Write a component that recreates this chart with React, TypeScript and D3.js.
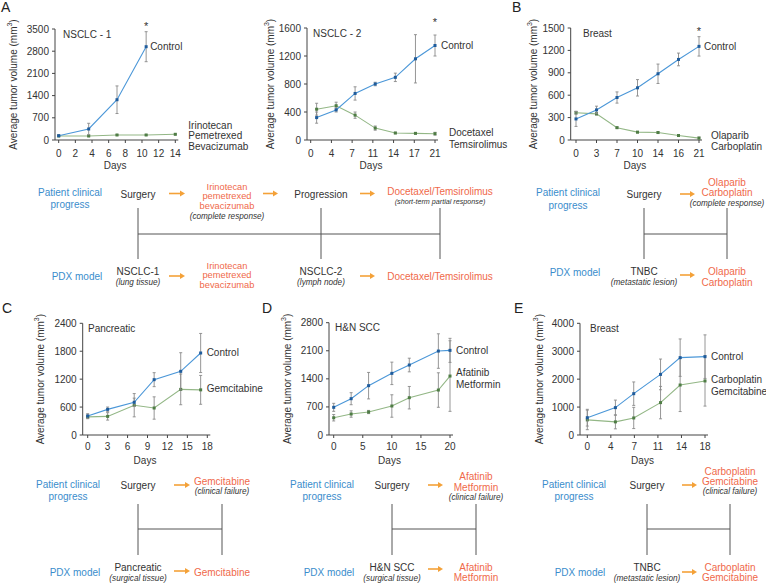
import React from 'react';
import * as d3 from 'd3';

const FONT = "'Liberation Sans', Arial, Helvetica, sans-serif";
const BLUE_LINE = '#4b97d8';
const BLUE_DOT = '#1f5c9c';
const GREEN_LINE = '#93b786';
const GREEN_DOT = '#4f7d45';
const ERR = '#8a8a8a';
const TXT = '#333333';
const BLUE_TXT = '#3a8dcc';
const RED_TXT = '#f0694a';
const ARROW = '#f4a138';
const AXIS = '#444444';
const IT = 8.2;

// ---------- Panel A (NSCLC-1) ----------
const a1CtrlDays = [0, 3.6, 7, 10.5];
const a1Ctrl = [136, 347, 1270, 2942];
const a1CtrlErr = [20, 180, 435, 473];
const a1TrtDays = [0, 3.6, 7, 10.5, 14];
const a1Trt = [126, 126, 158, 158, 180];
const a1TrtErr = [15, 15, 15, 15, 15];
const a1XTicks = [0, 2, 4, 6, 8, 10, 12, 14];
const a1XLabels = ['0', '2', '4', '6', '8', '10', '12', '14'];
const a1YTicks = [0, 700, 1400, 2100, 2800, 3500];

// ---------- Panel A (NSCLC-2) ----------
const a2Days = [1, 4.3, 7.5, 10.9, 14.3, 17.7, 21];
const a2Ctrl = [320, 430, 665, 800, 895, 1160, 1350];
const a2CtrlErr = [80, 30, 95, 25, 60, 345, 150];
const a2Trt = [440, 490, 355, 170, 100, 95, 90];
const a2TrtErr = [85, 50, 45, 30, 10, 10, 20];
const a2XTicks = [0, 3.5, 7, 10.5, 14, 17.5, 21];
const a2XLabels = ['0', '4', '7', '11', '14', '17', '21'];
const a2YTicks = [0, 400, 800, 1200, 1600];

// ---------- Panel B (Breast) ----------
const bDays = [0, 3.5, 7, 10.5, 14, 17.5, 21];
const bCtrl = [282, 403, 569, 699, 887, 1079, 1254];
const bCtrlErr = [100, 50, 75, 110, 130, 85, 130];
const bTrt = [365, 350, 165, 105, 100, 60, 25];
const bTrtErr = [20, 15, 10, 10, 10, 10, 15];
const bXTicks = [0, 3.5, 7, 10.5, 14, 17.5, 21];
const bXLabels = ['0', '3', '7', '10', '14', '16', '21'];
const bYTicks = [0, 300, 600, 900, 1200, 1500];

// ---------- Panel C (Pancreatic) ----------
const cDays = [0, 3, 7, 10, 14, 17];
const cCtrl = [408, 551, 702, 1189, 1368, 1762];
const cCtrlErr = [50, 50, 90, 150, 400, 420];
const cTrt = [390, 400, 640, 580, 980, 970];
const cTrtErr = [40, 80, 250, 240, 330, 310];
const cXTicks = [0, 3, 6, 9, 12, 15, 18];
const cXLabels = ['0', '3', '6', '9', '12', '15', '18'];
const cYTicks = [0, 600, 1200, 1800, 2400];

// ---------- Panel D (H&N SCC) ----------
const dDays = [0, 3, 6, 10, 13, 18, 20];
const dCtrl = [690, 905, 1230, 1537, 1745, 2093, 2110];
const dCtrlErr = [100, 150, 330, 280, 170, 430, 300];
const dTrt = [430, 523, 573, 723, 930, 1121, 1470];
const dTrtErr = [80, 80, 40, 280, 280, 430, 880];
const dXTicks = [0, 5, 10, 15, 20];
const dXLabels = ['0', '5', '10', '15', '20'];
const dYTicks = [0, 700, 1400, 2100, 2800];

// ---------- Panel E (Breast) ----------
const eDays = [0, 4.3, 7.1, 11.2, 14.2, 18];
const eCtrl = [620, 980, 1480, 2170, 2770, 2806];
const eCtrlErr = [300, 270, 420, 550, 670, 780];
const eTrt = [540, 470, 610, 1160, 1790, 1935];
const eTrtErr = [350, 250, 380, 580, 950, 900];
const eXTicks = [0, 3.6, 7.2, 10.8, 14.4, 18];
const eXLabels = ['0', '4', '7', '11', '14', '18'];
const eYTicks = [0, 1000, 2000, 3000, 4000];

type ChartProps = {
  axisX: number; x0: number; x1: number; yTop: number; yBottom: number;
  xDomain: [number, number]; yDomain: [number, number];
  xTicks: number[]; xLabels: string[]; yTicks: number[];
  ctrlDays: number[]; ctrl: number[]; ctrlErr: number[];
  trtDays: number[]; trt: number[]; trtErr: number[];
  title: string; titleX: number;
  trtLabels: string[]; trtDx: number; trtDy: number[];
  ctrlDx: number;
  starY?: number;
  yTitleX: number;
  tickDy: number;
};

function Series({ days, vals, errs, x, y, lineColor, dotColor }: any) {
  const pts: [number, number][] = days.map((d: number, i: number) => [d, vals[i]]);
  const line = d3.line<[number, number]>().x(d => x(d[0])).y(d => y(d[1]));
  return (
    <g>
      {pts.map((p, i) => (
        <g key={'e' + i} stroke={ERR} strokeWidth={0.9}>
          <line x1={x(p[0])} x2={x(p[0])} y1={y(p[1] + errs[i])} y2={y(Math.max(0, p[1] - errs[i]))} />
          <line x1={x(p[0]) - 1.5} x2={x(p[0]) + 1.5} y1={y(p[1] + errs[i])} y2={y(p[1] + errs[i])} />
          <line x1={x(p[0]) - 1.5} x2={x(p[0]) + 1.5} y1={y(Math.max(0, p[1] - errs[i]))} y2={y(Math.max(0, p[1] - errs[i]))} />
        </g>
      ))}
      <path d={line(pts) || ''} fill="none" stroke={lineColor} strokeWidth={1.1} />
      {pts.map((p, i) => (
        <rect key={'p' + i} x={x(p[0]) - 1.5} y={y(p[1]) - 1.5} width={3} height={3} fill={dotColor} />
      ))}
    </g>
  );
}

function Chart(p: ChartProps) {
  const x = d3.scaleLinear().domain(p.xDomain).range([p.x0, p.x1]);
  const y = d3.scaleLinear().domain(p.yDomain).range([p.yBottom, p.yTop]);
  const lastC = p.ctrl.length - 1;
  const lastT = p.trt.length - 1;
  const cx = x(p.ctrlDays[lastC]);
  const cy = y(p.ctrl[lastC]);
  const tx = x(p.trtDays[lastT]);
  const ty = y(p.trt[lastT]);
  const midY = (p.yTop + p.yBottom) / 2;
  return (
    <g fontFamily={FONT} fill={TXT}>
      <line x1={p.axisX} x2={p.axisX} y1={p.yTop} y2={p.yBottom} stroke={AXIS} strokeWidth={1} />
      <line x1={p.axisX} x2={p.x1 + 3} y1={p.yBottom} y2={p.yBottom} stroke={AXIS} strokeWidth={1} />
      {p.yTicks.map(t => (
        <g key={'y' + t}>
          <line x1={p.axisX - 3} x2={p.axisX} y1={y(t)} y2={y(t)} stroke={AXIS} />
          <text x={p.axisX - 6} y={y(t)} textAnchor="end" dominantBaseline="central" fontSize={10}>{t}</text>
        </g>
      ))}
      {p.xTicks.map((t, i) => (
        <g key={'x' + i}>
          <line x1={x(t)} x2={x(t)} y1={p.yBottom} y2={p.yBottom + 3} stroke={AXIS} />
          <text x={x(t)} y={p.yBottom + p.tickDy} textAnchor="middle" dominantBaseline="central" fontSize={10}>{p.xLabels[i]}</text>
        </g>
      ))}
      <text x={(p.axisX + p.x1) / 2} y={p.yBottom + 25} textAnchor="middle" dominantBaseline="central" fontSize={10}>Days</text>
      <text transform={`translate(${p.yTitleX},${midY}) rotate(-90)`} textAnchor="middle" dominantBaseline="central" fontSize={10}>
        Average tumor volume (mm<tspan dy={-4} fontSize={7}>3</tspan><tspan dy={4}>)</tspan>
      </text>
      <text x={p.titleX} y={p.yTop + 5} dominantBaseline="central" fontSize={10}>{p.title}</text>
      <Series days={p.trtDays} vals={p.trt} errs={p.trtErr} x={x} y={y} lineColor={GREEN_LINE} dotColor={GREEN_DOT} />
      <Series days={p.ctrlDays} vals={p.ctrl} errs={p.ctrlErr} x={x} y={y} lineColor={BLUE_LINE} dotColor={BLUE_DOT} />
      <text x={cx + p.ctrlDx} y={cy} dominantBaseline="central" fontSize={10}>Control</text>
      {p.trtLabels.map((s, i) => (
        <text key={s} x={tx + p.trtDx} y={ty + p.trtDy[i]} dominantBaseline="central" fontSize={10}>{s}</text>
      ))}
      {p.starY !== undefined && (
        <text x={cx} y={p.starY + 3} textAnchor="middle" dominantBaseline="central" fontSize={11}>*</text>
      )}
    </g>
  );
}

function T({ x, y, c = TXT, size = 10, italic = false, children }: any) {
  return (
    <text x={x} y={y} textAnchor="middle" dominantBaseline="central" fontSize={size}
      fill={c} fontStyle={italic ? 'italic' : 'normal'} fontFamily={FONT}>{children}</text>
  );
}

function Arrow({ x1, x2, y }: any) {
  return (
    <g>
      <line x1={x1} x2={x2 - 4} y1={y} y2={y} stroke={ARROW} strokeWidth={1.6} />
      <polygon points={`${x2},${y} ${x2 - 5},${y - 3} ${x2 - 5},${y + 3}`} fill={ARROW} />
    </g>
  );
}

function Bracket({ xs, yTop, yMid, yBot }: any) {
  return (
    <g stroke="#555" strokeWidth={1}>
      {xs.map((xv: number) => <line key={xv} x1={xv} x2={xv} y1={yTop} y2={yBot} />)}
      <line x1={xs[0]} x2={xs[xs.length - 1]} y1={yMid} y2={yMid} />
    </g>
  );
}

function Letter({ x, y, s }: any) {
  return <text x={x} y={y} fontSize={14} fontFamily={FONT} fill="#222" dominantBaseline="central">{s}</text>;
}

export default function App() {
  return (
    <svg width={766} height={583} style={{ position: 'absolute', left: 0, top: 0, background: '#fff' }}>
      <rect width={766} height={583} fill="#fff" />
      <Letter x={1} y={7} s="A" />
      <Letter x={512} y={7} s="B" />
      <Letter x={2} y={308} s="C" />
      <Letter x={262} y={308} s="D" />
      <Letter x={514} y={308} s="E" />

      <Chart axisX={55} x0={58.7} x1={175.3} yTop={29} yBottom={140} xDomain={[0, 14]} yDomain={[0, 3500]}
        xTicks={a1XTicks} xLabels={a1XLabels} yTicks={a1YTicks}
        ctrlDays={a1CtrlDays} ctrl={a1Ctrl} ctrlErr={a1CtrlErr}
        trtDays={a1TrtDays} trt={a1Trt} trtErr={a1TrtErr}
        title="NSCLC - 1" titleX={63} trtLabels={['Irinotecan', 'Pemetrexed', 'Bevacizumab']}
        trtDx={13} trtDy={[-9, 1.5, 12]} ctrlDx={4} starY={23} yTitleX={13} tickDy={13} />

      <Chart axisX={307} x0={310.7} x1={435} yTop={28} yBottom={140} xDomain={[0, 21]} yDomain={[0, 1600]}
        xTicks={a2XTicks} xLabels={a2XLabels} yTicks={a2YTicks}
        ctrlDays={a2Days} ctrl={a2Ctrl} ctrlErr={a2CtrlErr}
        trtDays={a2Days} trt={a2Trt} trtErr={a2TrtErr}
        title="NSCLC - 2" titleX={313} trtLabels={['Docetaxel', 'Temsirolimus']}
        trtDx={14} trtDy={[-1, 11]} ctrlDx={6} starY={19} yTitleX={270} tickDy={13} />

      <Chart axisX={570.7} x0={576} x1={699} yTop={28} yBottom={140} xDomain={[0, 21]} yDomain={[0, 1500]}
        xTicks={bXTicks} xLabels={bXLabels} yTicks={bYTicks}
        ctrlDays={bDays} ctrl={bCtrl} ctrlErr={bCtrlErr}
        trtDays={bDays} trt={bTrt} trtErr={bTrtErr}
        title="Breast" titleX={583} trtLabels={['Olaparib', 'Carboplatin']}
        trtDx={12} trtDy={[-3, 8]} ctrlDx={5} starY={28} yTitleX={533} tickDy={13} />

      <Chart axisX={82.7} x0={87.7} x1={207.3} yTop={323.3} yBottom={435} xDomain={[0, 18]} yDomain={[0, 2400]}
        xTicks={cXTicks} xLabels={cXLabels} yTicks={cYTicks}
        ctrlDays={cDays} ctrl={cCtrl} ctrlErr={cCtrlErr}
        trtDays={cDays} trt={cTrt} trtErr={cTrtErr}
        title="Pancreatic" titleX={88} trtLabels={['Gemcitabine']}
        trtDx={6} trtDy={[-1]} ctrlDx={6} yTitleX={40} tickDy={11} />

      <Chart axisX={329} x0={333.7} x1={450} yTop={322.7} yBottom={435} xDomain={[0, 20]} yDomain={[0, 2800]}
        xTicks={dXTicks} xLabels={dXLabels} yTicks={dYTicks}
        ctrlDays={dDays} ctrl={dCtrl} ctrlErr={dCtrlErr}
        trtDays={dDays} trt={dTrt} trtErr={dTrtErr}
        title="H&N SCC" titleX={335} trtLabels={['Afatinib', 'Metformin']}
        trtDx={6} trtDy={[-4, 8]} ctrlDx={6} yTitleX={287} tickDy={11} />

      <Chart axisX={580} x0={587.3} x1={705} yTop={323.3} yBottom={435} xDomain={[0, 18]} yDomain={[0, 4000]}
        xTicks={eXTicks} xLabels={eXLabels} yTicks={eYTicks}
        ctrlDays={eDays} ctrl={eCtrl} ctrlErr={eCtrlErr}
        trtDays={eDays} trt={eTrt} trtErr={eTrtErr}
        title="Breast" titleX={590} trtLabels={['Carboplatin', 'Gemcitabine']}
        trtDx={6} trtDy={[-1, 11]} ctrlDx={6} yTitleX={539} tickDy={11} />

      {/* ---- Diagram A ---- */}
      <T x={70} y={192} c={BLUE_TXT}>Patient clinical</T>
      <T x={70} y={204} c={BLUE_TXT}>progress</T>
      <T x={138} y={194}>Surgery</T>
      <Arrow x1={169} x2={185} y={193.5} />
      <T x={227} y={187} c={RED_TXT} size={9.3}>Irinotecan</T>
      <T x={227} y={196.3} c={RED_TXT} size={9.3}>pemetrexed</T>
      <T x={227} y={205.6} c={RED_TXT} size={9.3}>bevacizumab</T>
      <T x={227} y={216} size={IT} italic>(complete response)</T>
      <Arrow x1={263} x2={278} y={193.5} />
      <T x={321} y={194}>Progression</T>
      <Arrow x1={360} x2={375} y={193.5} />
      <T x={440} y={191.5} c={RED_TXT}>Docetaxel/Temsirolimus</T>
      <T x={440} y={201} size={7.2} italic>(short-term partial response)</T>
      <Bracket xs={[138, 321, 440]} yTop={208} yMid={234} yBot={259} />
      <T x={77} y={276} c={BLUE_TXT}>PDX model</T>
      <T x={138} y={271}>NSCLC-1</T>
      <T x={138} y={282} size={IT} italic>(lung tissue)</T>
      <Arrow x1={169} x2={185} y={276} />
      <T x={227} y={266} c={RED_TXT} size={9.3}>Irinotecan</T>
      <T x={227} y={275.3} c={RED_TXT} size={9.3}>pemetrexed</T>
      <T x={227} y={284.6} c={RED_TXT} size={9.3}>bevacizumab</T>
      <T x={321} y={271}>NSCLC-2</T>
      <T x={321} y={282} size={IT} italic>(lymph node)</T>
      <Arrow x1={360} x2={375} y={276} />
      <T x={440} y={276} c={RED_TXT}>Docetaxel/Temsirolimus</T>

      {/* ---- Diagram B ---- */}
      <T x={568} y={192} c={BLUE_TXT}>Patient clinical</T>
      <T x={568} y={205} c={BLUE_TXT}>progress</T>
      <T x={644} y={194}>Surgery</T>
      <Arrow x1={680} x2={695} y={194} />
      <T x={727} y={182} c={RED_TXT}>Olaparib</T>
      <T x={727} y={192} c={RED_TXT}>Carboplatin</T>
      <T x={727} y={203} size={IT} italic>(complete response)</T>
      <Bracket xs={[644, 727]} yTop={208} yMid={234} yBot={259} />
      <T x={575} y={272} c={BLUE_TXT}>PDX model</T>
      <T x={644} y={271}>TNBC</T>
      <T x={644} y={282} size={IT} italic>(metastatic lesion)</T>
      <Arrow x1={680} x2={695} y={275} />
      <T x={727} y={271} c={RED_TXT}>Olaparib</T>
      <T x={727} y={282} c={RED_TXT}>Carboplatin</T>

      {/* ---- Diagram C ---- */}
      <T x={68} y={484} c={BLUE_TXT}>Patient clinical</T>
      <T x={68} y={496} c={BLUE_TXT}>progress</T>
      <T x={138} y={485}>Surgery</T>
      <Arrow x1={174} x2={190} y={485} />
      <T x={222} y={481} c={RED_TXT}>Gemcitabine</T>
      <T x={222} y={491} size={IT} italic>(clinical failure)</T>
      <Bracket xs={[138, 222]} yTop={504} yMid={529} yBot={555} />
      <T x={75} y={572} c={BLUE_TXT}>PDX model</T>
      <T x={138} y={567}>Pancreatic</T>
      <T x={138} y={578} size={IT} italic>(surgical tissue)</T>
      <Arrow x1={174} x2={190} y={571} />
      <T x={222} y={572} c={RED_TXT}>Gemcitabine</T>

      {/* ---- Diagram D ---- */}
      <T x={322} y={484} c={BLUE_TXT}>Patient clinical</T>
      <T x={322} y={496} c={BLUE_TXT}>progress</T>
      <T x={392} y={485}>Surgery</T>
      <Arrow x1={428} x2={443} y={485} />
      <T x={476} y={476} c={RED_TXT}>Afatinib</T>
      <T x={476} y={487} c={RED_TXT}>Metformin</T>
      <T x={476} y={497} size={IT} italic>(clinical failure)</T>
      <Bracket xs={[392, 476]} yTop={504} yMid={529} yBot={555} />
      <T x={329} y={572} c={BLUE_TXT}>PDX model</T>
      <T x={392} y={567}>H&amp;N SCC</T>
      <T x={392} y={578} size={IT} italic>(surgical tissue)</T>
      <Arrow x1={428} x2={443} y={569} />
      <T x={476} y={567} c={RED_TXT}>Afatinib</T>
      <T x={476} y={577} c={RED_TXT}>Metformin</T>

      {/* ---- Diagram E ---- */}
      <T x={574} y={484} c={BLUE_TXT}>Patient clinical</T>
      <T x={574} y={496} c={BLUE_TXT}>progress</T>
      <T x={647} y={485}>Surgery</T>
      <Arrow x1={682} x2={697} y={485} />
      <T x={730} y={471} c={RED_TXT}>Carboplatin</T>
      <T x={730} y={481} c={RED_TXT}>Gemcitabine</T>
      <T x={730} y={491} size={IT} italic>(clinical failure)</T>
      <Bracket xs={[647, 730]} yTop={504} yMid={529} yBot={555} />
      <T x={580} y={572} c={BLUE_TXT}>PDX model</T>
      <T x={647} y={567}>TNBC</T>
      <T x={647} y={578} size={IT} italic>(metastatic lesion)</T>
      <Arrow x1={682} x2={697} y={572} />
      <T x={730} y={567} c={RED_TXT}>Carboplatin</T>
      <T x={730} y={577} c={RED_TXT}>Gemcitabine</T>
    </svg>
  );
}
